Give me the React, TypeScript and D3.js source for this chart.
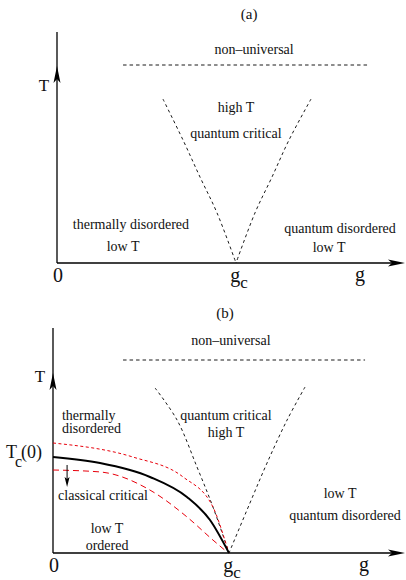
import * as React from "react";
import * as d3 from "d3";

type Pt = [number, number];

// panel (a) crossover lines, in (g/gc, T) units
const aNonUniversal: Pt[] = [[0.369, 1.0], [1.737, 1.0]];
const aLeftArm: Pt[] = [[0.592, 0.828], [0.704, 0.621], [0.799, 0.434], [0.894, 0.253], [1, 0]];
const aRightArm: Pt[] = [[1.419, 0.828], [1.296, 0.621], [1.201, 0.434], [1.106, 0.253], [1, 0]];

// panel (b)
const bNonUniversal: Pt[] = [[0.398, 1.0], [1.773, 1.0]];
const bLeftArm: Pt[] = [[0.58, 0.855], [0.705, 0.689], [0.818, 0.446], [0.909, 0.238], [1, 0]];
const bRightArm: Pt[] = [[1.432, 0.86], [1.33, 0.689], [1.216, 0.466], [1.119, 0.259], [1, 0]];
const tcCurve: Pt[] = [[0, 0.497], [0.267, 0.466], [0.551, 0.394], [0.761, 0.29], [0.892, 0.171], [1, 0]];
const upperWindow: Pt[] = [[0, 0.57], [0.455, 0.497], [0.739, 0.394], [0.909, 0.238], [0.989, 0.031], [1, 0]];
const lowerWindow: Pt[] = [[0, 0.43], [0.267, 0.42], [0.551, 0.326], [0.761, 0.187], [0.909, 0.067], [0.989, 0.005]];
const downArrow: Pt[] = [[0.08, 0.456], [0.08, 0.342]];

type Label = { text: string; g: number; T: number; anchor?: string; size?: number };

const aLabels: Label[] = [
  { text: "(a)", g: 1.073, T: 1.232, size: 15 },
  { text: "non\u2013universal", g: 1.101, T: 1.056 },
  { text: "high T", g: 1.0, T: 0.763 },
  { text: "quantum critical", g: 1.0, T: 0.631 },
  { text: "thermally disordered", g: 0.413, T: 0.172 },
  { text: "low T", g: 0.369, T: 0.061 },
  { text: "quantum disordered", g: 1.581, T: 0.152 },
  { text: "low T", g: 1.52, T: 0.056 },
];

const bLabels: Label[] = [
  { text: "(b)", g: 0.977, T: 1.218, size: 15 },
  { text: "non\u2013universal", g: 1.011, T: 1.078 },
  { text: "quantum critical", g: 0.983, T: 0.689 },
  { text: "high T", g: 0.983, T: 0.601 },
  { text: "thermally", g: 0.051, T: 0.689, anchor: "start" },
  { text: "disordered", g: 0.051, T: 0.62, anchor: "start" },
  { text: "classical critical", g: 0.284, T: 0.275 },
  { text: "low T", g: 0.307, T: 0.104 },
  { text: "ordered", g: 0.307, T: 0.016 },
  { text: "low T", g: 1.631, T: 0.285 },
  { text: "quantum disordered", g: 1.659, T: 0.171 },
];

const gTicks = [
  { text: "0", g: 0 },
  { text: "g", sub: "c", g: 1 },
];

const FONT = '"Liberation Serif", "Times New Roman", Times, "DejaVu Serif", serif';

type Panel = {
  ox: number; oy: number; kx: number; ky: number;
  gEnd: number; tTop: number; tArrow: number; gLabel: number; tLabel: number;
};

function drawPanel(root: d3.Selection<SVGSVGElement, unknown, null, undefined>, p: Panel,
  nonUni: Pt[], left: Pt[], right: Pt[], labels: Label[]) {
  const x = d3.scaleLinear().domain([0, 1]).range([p.ox, p.ox + p.kx]);
  const y = d3.scaleLinear().domain([0, 1]).range([p.oy, p.oy - p.ky]);
  const g = root.append("g");

  const line = d3.line<Pt>().x((d) => x(d[0])).y((d) => y(d[1]));
  const curve = d3.line<Pt>().x((d) => x(d[0])).y((d) => y(d[1])).curve(d3.curveCatmullRom.alpha(0.5));

  // axes
  g.append("line").attr("x1", x(0)).attr("x2", x(0)).attr("y1", y(0)).attr("y2", y(p.tTop))
    .attr("stroke", "#000").attr("stroke-width", 1.3);
  g.append("line").attr("x1", x(0)).attr("x2", x(p.gEnd) - 6).attr("y1", y(0)).attr("y2", y(0))
    .attr("stroke", "#000").attr("stroke-width", 1.3);
  // arrowheads
  const ty = y(p.tArrow);
  g.append("path")
    .attr("d", `M${x(0)},${ty} L${x(0) + 3.5},${ty + 17} L${x(0)},${ty + 13} L${x(0) - 3.5},${ty + 17} Z`)
    .attr("fill", "#000");
  const tx = x(p.gEnd);
  g.append("path")
    .attr("d", `M${tx},${y(0)} L${tx - 17},${y(0) - 3.5} L${tx - 13},${y(0)} L${tx - 17},${y(0) + 3.5} Z`)
    .attr("fill", "#000");

  // dashed crossovers
  g.append("path").attr("d", line(nonUni)).attr("fill", "none").attr("stroke", "#000")
    .attr("stroke-width", 0.9).attr("stroke-dasharray", "3.5,3");
  [left, right].forEach((arm) => {
    g.append("path").attr("d", curve(arm)).attr("fill", "none").attr("stroke", "#000")
      .attr("stroke-width", 0.9).attr("stroke-dasharray", "3,3");
  });

  // region labels
  g.selectAll("text.lab").data(labels).enter().append("text")
    .attr("class", "lab")
    .attr("x", (d) => x(d.g)).attr("y", (d) => y(d.T))
    .attr("text-anchor", (d) => d.anchor || "middle")
    .style("font-family", FONT).style("font-size", (d) => `${d.size || 14}px`).attr("fill", "#111")
    .text((d) => d.text);

  // axis labels
  gTicks.forEach((t) => {
    const tt = g.append("text").attr("x", x(t.g) + (t.sub ? 3 : 1)).attr("y", y(0) + 19)
      .attr("text-anchor", "middle").style("font-family", FONT).style("font-size", "20px").attr("fill", "#111");
    tt.append("tspan").text(t.text);
    if (t.sub) tt.append("tspan").attr("dy", 6).style("font-size", "17px").text(t.sub);
  });
  g.append("text").attr("x", x(p.gLabel)).attr("y", y(0) + 18).attr("text-anchor", "middle")
    .style("font-family", FONT).style("font-size", "20px").attr("fill", "#111").text("g");
  g.append("text").attr("x", x(0) - 13).attr("y", y(p.tLabel)).attr("text-anchor", "middle")
    .style("font-family", FONT).style("font-size", "17px").attr("fill", "#111").text("T");

  return { x, y, g };
}

function drawChart(svgRef: React.RefObject<SVGSVGElement>) {
  const svg = d3.select(svgRef.current!);
  svg.selectAll("*").remove();

  drawPanel(svg, { ox: 57, oy: 263, kx: 179, ky: 198, gEnd: 1.944, tTop: 1.167, tArrow: 0.995, gLabel: 1.693, tLabel: 0.869 },
    aNonUniversal, aLeftArm, aRightArm, aLabels);

  const b = drawPanel(svg, { ox: 53, oy: 553, kx: 176, ky: 193, gEnd: 2.0, tTop: 1.166, tArrow: 0.933, gLabel: 1.767, tLabel: 0.886 },
    bNonUniversal, bLeftArm, bRightArm, bLabels);

  const smooth = d3.line<Pt>().x((d) => b.x(d[0])).y((d) => b.y(d[1])).curve(d3.curveMonotoneX);

  b.g.append("path").attr("d", smooth(upperWindow)).attr("fill", "none").attr("stroke", "#e8000b")
    .attr("stroke-width", 1).attr("stroke-dasharray", "3,2.5");
  b.g.append("path").attr("d", smooth(lowerWindow)).attr("fill", "none").attr("stroke", "#e8000b")
    .attr("stroke-width", 1).attr("stroke-dasharray", "6,4");
  b.g.append("path").attr("d", smooth(tcCurve)).attr("fill", "none").attr("stroke", "#000")
    .attr("stroke-width", 2);

  // small downward arrow
  const ax = b.x(downArrow[0][0]);
  const ay0 = b.y(downArrow[0][1]);
  const ay1 = b.y(downArrow[1][1]);
  b.g.append("line").attr("x1", ax).attr("x2", ax).attr("y1", ay0).attr("y2", ay1 - 6)
    .attr("stroke", "#000").attr("stroke-width", 1);
  b.g.append("path")
    .attr("d", `M${ax},${ay1} L${ax - 2.5},${ay1 - 10} L${ax},${ay1 - 8} L${ax + 2.5},${ay1 - 10} Z`)
    .attr("fill", "#000");

  // T_c(0)
  const tc = b.g.append("text").attr("x", 6).attr("y", b.y(0.492))
    .style("font-family", FONT).style("font-size", "18px").attr("fill", "#111");
  tc.append("tspan").text("T");
  tc.append("tspan").attr("dx", -2).attr("dy", 9).style("font-size", "16px").text("c");
  tc.append("tspan").attr("dx", -1).attr("dy", -9).text("(0)");
}

const App: React.FunctionComponent = () => {
  const svg = React.useRef<SVGSVGElement>(null);
  React.useEffect(() => {
    drawChart(svg);
  }, [svg]);

  return (
    <div id="chart">
      <svg ref={svg} width={406} height={580}
        style={{ position: "absolute", left: 0, top: 0, background: "#fff" }} />
    </div>
  );
};

export default App;
